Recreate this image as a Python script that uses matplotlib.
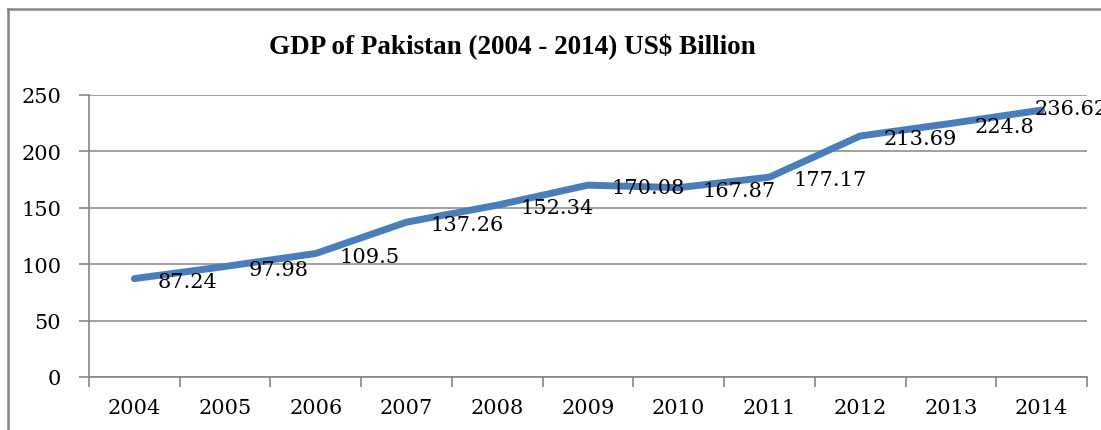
import matplotlib
matplotlib.use("Agg")
from matplotlib import pyplot as plt
from matplotlib.lines import Line2D

# GDP of Pakistan, US$ billion
years = ["2004", "2005", "2006", "2007", "2008", "2009", "2010", "2011", "2012", "2013", "2014"]
gdp = [87.24, 97.98, 109.5, 137.26, 152.34, 170.08, 167.87, 177.17, 213.69, 224.8, 236.62]
yticks = [0, 50, 100, 150, 200, 250]

plt.rcParams['font.family'] = ['DejaVu Serif']
grey = '#868686'

fig = plt.figure(figsize=(11.01, 4.31), dpi=100)
ax = fig.add_axes([89 / 1101, 1 - 378 / 431, (1087 - 89) / 1101, (378 - 96) / 431])

x = list(range(len(years)))
ax.plot(x, gdp, color='#4a7ebb', linewidth=5, solid_capstyle='round', zorder=3)

for xi, v in zip(x, gdp):
    # the last label is pulled back over the line end, as in the original
    off = (17, -2) if xi < len(x) - 1 else (-5, 1)
    ax.annotate(f"{v:g}", (xi, v), xytext=off, textcoords='offset points',
                ha='left', va='center', fontsize=15, zorder=4, annotation_clip=False)

ax.set_xlim(-0.5, len(years) - 0.5)
ax.set_ylim(0, 250)
ax.set_yticks(yticks)
ax.set_xticks(x)
ax.set_xticklabels(years)
ax.set_xticks([i - 0.5 for i in range(len(years) + 1)], minor=True)

ax.tick_params(axis='x', which='major', length=0, pad=15, labelsize=15)
ax.tick_params(axis='x', which='minor', length=7, width=1.2, color=grey, direction='out')
ax.tick_params(axis='y', length=7, width=1.2, color=grey, pad=13, labelsize=15)

ax.grid(axis='y', color=grey, linewidth=1.1)
ax.set_axisbelow(True)
for s in ['top', 'right']:
    ax.spines[s].set_visible(False)
for s in ['left', 'bottom']:
    ax.spines[s].set_color(grey)
    ax.spines[s].set_linewidth(1.2)

# chart border (top and left only, rest is cut off)
fig.add_artist(Line2D([8 / 1101, 1.0], [1 - 10 / 431, 1 - 10 / 431], color=grey, linewidth=1.8))
fig.add_artist(Line2D([8 / 1101, 8 / 1101], [0.0, 1 - 10 / 431], color=grey, linewidth=1.8))

fig.text(512 / 1101, 1 - 46 / 431, "GDP of Pakistan (2004 - 2014) US$ Billion",
         ha='center', va='center', fontsize=19.5, fontweight='bold', family='Liberation Serif')

fig.savefig("out.png", dpi=100)
